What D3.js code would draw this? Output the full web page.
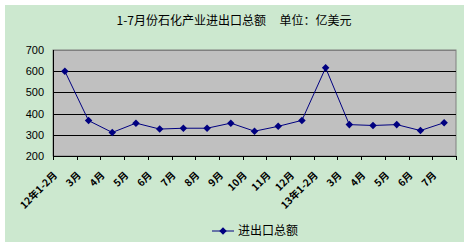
<!DOCTYPE html>
<html>
<head>
<meta charset="utf-8">
<script src="https://cdn.jsdelivr.net/npm/d3@7"></script>
<style>
  body { margin: 0; background: #fff; }
  svg { display: block; }
  .ytick text { font-family: "Liberation Sans", Arial, sans-serif; font-size: 11px; fill: #000; }
  .xlab { font-family: "Noto Sans CJK SC", sans-serif; font-size: 10px; font-weight: bold; fill: #000; }
</style>
</head>
<body>
<div id="chart"></div>
<script>
const categories = ["12年1-2月", "3月", "4月", "5月", "6月", "7月", "8月", "9月", "10月", "11月", "12月",
                    "13年1-2月", "3月", "4月", "5月", "6月", "7月"];
const totals = [600, 367, 311, 355, 327, 331, 331, 355, 317, 340, 368, 616, 348, 344, 348, 320, 357];
const yTicks = [200, 300, 400, 500, 600, 700];
const seriesName = "进出口总额";
const title = "1-7月份石化产业进出口总额     单位：亿美元";

const W = 469, H = 247;
const plotLeft = 53, plotTop = 50, width = 403, height = 106;

const svg = d3.select('#chart').append('svg')
    .attr('width', W)
    .attr('height', H);

// chart background
svg.append('rect')
    .attr('x', 5).attr('y', 5)
    .attr('width', 459).attr('height', 237)
    .attr('fill', '#cce8cf');

svg.append('text')
    .attr('x', 234)
    .attr('y', 25)
    .attr('text-anchor', 'middle')
    .attr('font-family', '"Noto Sans CJK SC", sans-serif')
    .attr('font-size', 12)
    .style('white-space', 'pre')
    .text(title);

const chart = svg.append('g')
    .attr('transform', `translate(${plotLeft}, ${plotTop})`);

const xScale = d3.scaleBand()
    .range([0, width])
    .domain(d3.range(categories.length));

const xEdges = d3.scaleLinear()
    .range([0, width])
    .domain([0, categories.length]);

const yScale = d3.scaleLinear()
    .range([height, 0])
    .domain([200, 700]);

// plot area
chart.append('rect')
    .attr('width', width)
    .attr('height', height)
    .attr('fill', '#c0c0c0')
    .attr('stroke', '#808080');

// gridlines + y labels
const yAxis = chart.append('g')
    .attr('class', 'ytick')
    .call(d3.axisLeft(yScale)
        .tickValues(yTicks)
        .tickSize(-width)
        .tickPadding(9)
        .tickFormat(d3.format('d')));
yAxis.select('.domain').remove();
yAxis.selectAll('line')
    .attr('stroke', d => d === 700 ? '#808080' : '#000')
    .attr('shape-rendering', 'crispEdges');

// x axis with tick marks between categories
const xAxis = chart.append('g')
    .attr('transform', `translate(0, ${height})`)
    .call(d3.axisBottom(xEdges)
        .tickValues(d3.range(0, categories.length + 1))
        .tickSize(4)
        .tickSizeOuter(0)
        .tickFormat(''));
xAxis.selectAll('line, path').attr('stroke', '#000').attr('shape-rendering', 'crispEdges');

// left axis line
chart.append('line')
    .attr('x1', 0).attr('x2', 0)
    .attr('y1', 0).attr('y2', height)
    .attr('stroke', '#000')
    .attr('shape-rendering', 'crispEdges');

// rotated category labels
chart.selectAll('.xlab')
    .data(categories)
    .enter()
    .append('text')
    .attr('class', 'xlab')
    .attr('text-anchor', 'end')
    .attr('transform', (d, i) => `translate(${xScale(i) + xScale.bandwidth() / 2 - 7}, ${height + 20}) rotate(-45)`)
    .text(d => d);

// series
const line = d3.line()
    .x((d, i) => xScale(i) + xScale.bandwidth() / 2)
    .y(d => yScale(d));

chart.append('path')
    .datum(totals)
    .attr('fill', 'none')
    .attr('stroke', '#000080')
    .attr('stroke-width', 1)
    .attr('d', line);

const diamond = d3.symbol().type(d3.symbolDiamond2).size(36);

chart.selectAll('.pt')
    .data(totals)
    .enter()
    .append('path')
    .attr('class', 'pt')
    .attr('d', diamond)
    .attr('fill', '#000080')
    .attr('transform', (d, i) => `translate(${xScale(i) + xScale.bandwidth() / 2}, ${yScale(d)})`);

// legend
const legend = svg.append('g')
    .attr('transform', 'translate(212, 231)');

legend.append('line')
    .attr('x1', 0).attr('x2', 22)
    .attr('stroke', '#000080');

legend.append('path')
    .attr('d', diamond)
    .attr('fill', '#000080')
    .attr('transform', 'translate(11, 0)');

legend.append('text')
    .attr('x', 26)
    .attr('y', 4)
    .attr('font-family', '"Noto Sans CJK SC", sans-serif')
    .attr('font-size', 12)
    .text(seriesName);
</script>
</body>
</html>
